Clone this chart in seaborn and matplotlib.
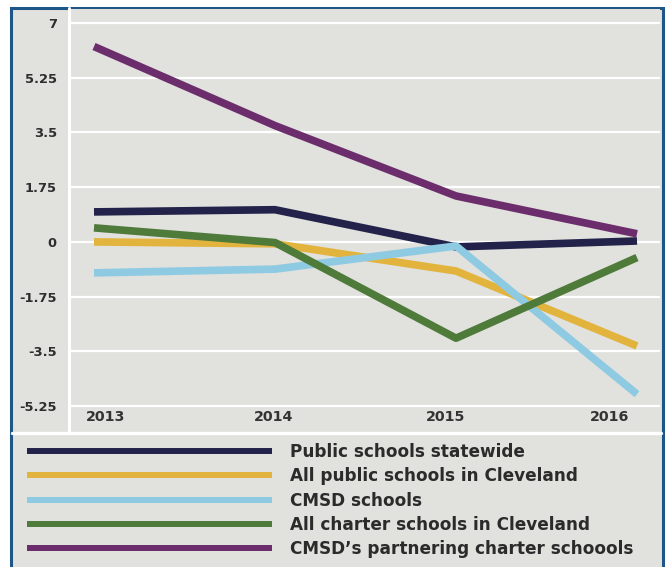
import matplotlib
matplotlib.use("Agg")
import matplotlib.pyplot as plt
from matplotlib.lines import Line2D
from matplotlib.patches import Rectangle
from matplotlib.transforms import ScaledTranslation
import pandas as pd
import seaborn as sns

# Data
years = [2013, 2014, 2015, 2016]
series_names = [
    "Public schools statewide",
    "All public schools in Cleveland",
    "CMSD schools",
    "All charter schools in Cleveland",
    "CMSD\u2019s partnering charter schoools",
]
statewide = [0.96, 1.03, -0.16, 0.03]
cleveland_public = [0.0, -0.06, -0.93, -3.33]
cmsd = [-0.99, -0.87, -0.13, -4.87]
cleveland_charter = [0.45, -0.02, -3.08, -0.50]
cmsd_partners = [6.25, 3.72, 1.47, 0.26]
y_ticks = [-5.25, -3.5, -1.75, 0, 1.75, 3.5, 5.25, 7]
y_tick_labels = ["-5.25", "-3.5", "-1.75", "0", "1.75", "3.5", "5.25", "7"]

colors = ["#22224a", "#e2b43e", "#8ecae2", "#4e7a3a", "#6b2d6b"]
palette = dict(zip(series_names, colors))

values = [statewide, cleveland_public, cmsd, cleveland_charter, cmsd_partners]
df = pd.DataFrame(
    [(name, yr, v) for name, vals in zip(series_names, values) for yr, v in zip(years, vals)],
    columns=["series", "year", "value"],
)

sns.set_theme(style="white")
plt.rcParams["font.family"] = ["DejaVu Sans"]

W, H = 671, 567
fig = plt.figure(figsize=(W / 100, H / 100), dpi=100, facecolor="white")

panel_gray = "#e1e1dd"
# framed panel behind everything
fig.patches.append(Rectangle((11 / W, -0.05), 652 / W, 1 - 7.5 / H + 0.05,
                             transform=fig.transFigure, facecolor=panel_gray,
                             edgecolor="#1f5688", linewidth=2.2, zorder=-10))

ax = fig.add_axes([70 / W, 1 - 432 / H, 590 / W, 423 / H])
ax.set_facecolor(panel_gray)

sns.lineplot(data=df, x="year", y="value", hue="series", hue_order=series_names,
             palette=palette, linewidth=5.5, legend=False, ax=ax,
             solid_capstyle="butt")

ax.set_xlim(2013 - 24 / 181, 2016 + 23 / 181)
ax.set_ylim(-6.08, 7.45)
ax.set_yticks(y_ticks)
ax.set_yticklabels(y_tick_labels)
ax.set_xticks([])
ax.set_xlabel("")
ax.set_ylabel("")
for s in ax.spines.values():
    s.set_visible(False)
ax.grid(axis="y", color="white", linewidth=1.6)
ax.set_axisbelow(True)
ax.tick_params(axis="y", length=0, pad=9.5, labelsize=9.4, labelcolor="#2e2e2e")
for lbl in ax.get_yticklabels():
    lbl.set_fontweight("bold")

# year labels along the bottom of the plotting area
label_shift = [12, -1, -10, -27]
for yr, dx in zip(years, label_shift):
    ax.text(yr, 0.035, str(yr), transform=ax.get_xaxis_transform()
            + ScaledTranslation(dx / 100, 0, fig.dpi_scale_trans),
            ha="center", va="center", fontsize=10.3, fontweight="bold",
            color="#333333")

# white separators between the value scale, plot and legend
fig.add_artist(Line2D([69 / W, 69 / W], [1 - 432 / H, 1 - 8 / H],
                      transform=fig.transFigure, color="white", linewidth=2.2))
fig.add_artist(Line2D([12 / W, 661 / W], [1 - 432.5 / H, 1 - 432.5 / H],
                      transform=fig.transFigure, color="white", linewidth=2.4))

handles = [Line2D([], [], color=palette[n], linewidth=4.3, solid_capstyle="butt")
           for n in series_names]
fs = 12.2
fs_px = fs * 100 / 72
leg = fig.legend(handles, series_names, loc="upper left",
                 bbox_to_anchor=(27 / W, 1 - 443 / H), bbox_transform=fig.transFigure,
                 frameon=False, borderpad=0, borderaxespad=0,
                 handlelength=245 / fs_px, handletextpad=18 / fs_px,
                 labelspacing=0.375, prop={"size": fs, "weight": "bold"})
for t in leg.get_texts():
    t.set_color("#2b2b2b")

fig.savefig("out.png", dpi=100, facecolor="white")
